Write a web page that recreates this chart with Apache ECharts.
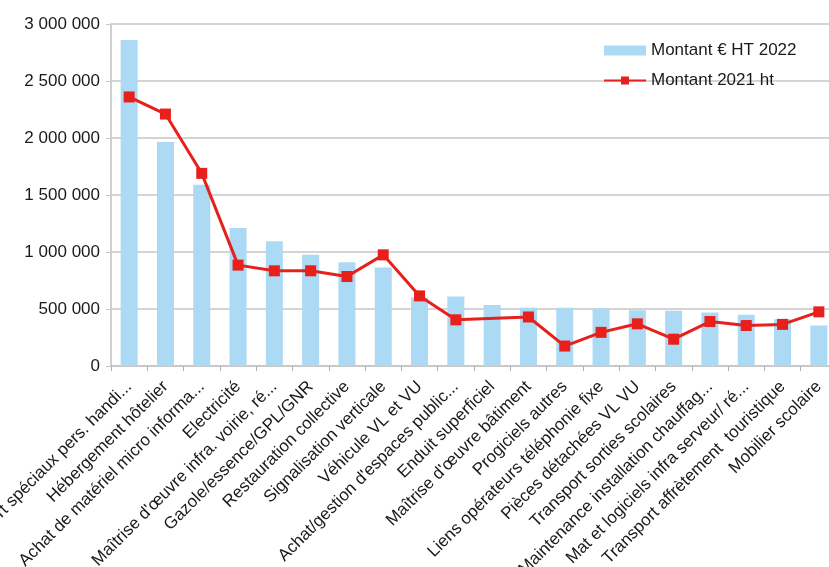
<!DOCTYPE html>
<html>
<head>
<meta charset="utf-8">
<script src="https://cdn.jsdelivr.net/npm/echarts@6/dist/echarts.min.js"></script>
<style>
html,body{margin:0;padding:0;background:#fff;}
#c{width:829px;height:567px;}
</style>
</head>
<body>
<div id="c"></div>
<script>
var categories = [
  "Transport spéciaux pers. handi...",
  "Hébergement hôtelier",
  "Achat de matériel micro informa...",
  "Electricité",
  "Maîtrise d'œuvre infra. voirie, ré...",
  "Gazole/essence/GPL/GNR",
  "Restauration collective",
  "Signalisation verticale",
  "Véhicule VL et VU",
  "Achat/gestion d'espaces public...",
  "Enduit superficiel",
  "Maîtrise d'œuvre bâtiment",
  "Progiciels autres",
  "Liens opérateurs téléphonie fixe",
  "Pièces détachées VL VU",
  "Transport sorties scolaires",
  "Maintenance installation chauffag...",
  "Mat et logiciels infra serveur/ ré...",
  "Transport affrètement  touristique",
  "Mobilier scolaire"
];
var montant2022 = [2860000, 1965000, 1590000, 1210000, 1095000, 975000, 910000, 865000, 600000, 610000,
                   535000, 510000, 510000, 505000, 490000, 485000, 470000, 450000, 410000, 355000];
var montant2021 = [2360000, 2210000, 1690000, 885000, 835000, 835000, 785000, 975000, 615000, 405000,
                   null, 430000, 175000, 295000, 370000, 235000, 390000, 355000, 365000, 475000];
var yTicks = { min: 0, max: 3000000, interval: 500000 };

function fmt(v){
  return String(v).replace(/\B(?=(\d{3})+(?!\d))/g, ' ');
}

var chart = echarts.init(document.getElementById('c'));
var font = 'Liberation Sans';
chart.setOption({
  animation: false,
  textStyle: { fontFamily: font },
  grid: { left: 111, top: 24, width: 726, height: 342, containLabel: false, outerBoundsMode: 'none' },
  legend: {
    orient: 'vertical',
    left: 603, top: 42, padding: 0,
    itemWidth: 42, itemHeight: 10, itemGap: 13,
    textStyle: { fontSize: 17, color: '#1a1a1a', fontFamily: font },
    data: [{ name: 'Montant € HT 2022', icon: 'rect' }, { name: 'Montant 2021 ht' }]
  },
  xAxis: {
    type: 'category',
    data: categories,
    axisLine: { lineStyle: { color: '#c8c8c8', width: 2 } },
    axisTick: { show: true, length: 5, lineStyle: { color: '#b0b0b0' } },
    axisLabel: { interval: 0, rotate: 45, fontSize: 17, color: '#1a1a1a', margin: 18, fontFamily: font }
  },
  yAxis: {
    type: 'value',
    min: yTicks.min, max: yTicks.max, interval: yTicks.interval,
    axisLine: { show: true, lineStyle: { color: '#d0d0d0', width: 2 } },
    axisTick: { show: true, length: 5, lineStyle: { color: '#c8c8c8' } },
    splitLine: { lineStyle: { color: '#d4d4d4', width: 2 } },
    axisLabel: { fontSize: 17, color: '#1a1a1a', margin: 11, formatter: fmt, fontFamily: font }
  },
  series: [
    {
      name: 'Montant € HT 2022',
      type: 'bar',
      data: montant2022,
      barWidth: 17,
      itemStyle: { color: '#acd9f3' }
    },
    {
      name: 'Montant 2021 ht',
      type: 'line',
      data: montant2021,
      connectNulls: true,
      symbol: 'rect',
      symbolSize: 11,
      lineStyle: { color: '#e8201c', width: 3 },
      itemStyle: { color: '#e8201c' }
    }
  ]
});
</script>
</body>
</html>
